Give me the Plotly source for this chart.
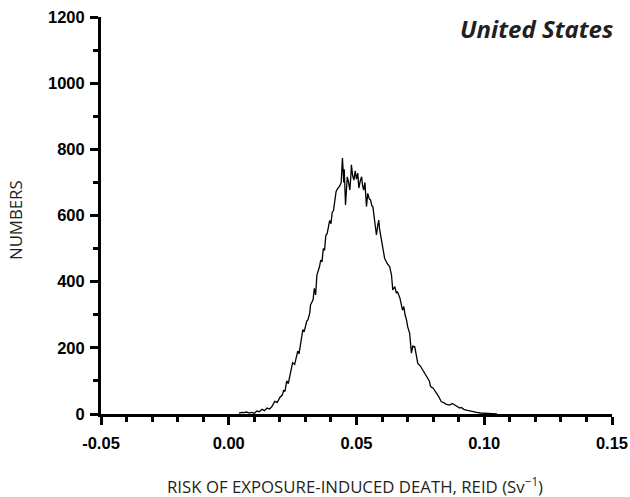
import plotly.graph_objects as go

reid = [0.004, 0.005, 0.006, 0.007, 0.008, 0.009, 0.010, 0.011, 0.012, 0.013, 0.014, 0.015,
        0.016, 0.017, 0.018, 0.019, 0.020, 0.021, 0.0215, 0.022, 0.0227, 0.0233, 0.024, 0.0247,
        0.025, 0.0258, 0.0266, 0.027, 0.0275, 0.028, 0.0285, 0.029, 0.0295, 0.0300, 0.0305,
        0.031, 0.0317, 0.032, 0.0325, 0.033, 0.0335, 0.034, 0.0345, 0.035, 0.0355, 0.036,
        0.0365, 0.037, 0.0375, 0.038, 0.0385, 0.039, 0.0395, 0.040, 0.0405, 0.041, 0.0415,
        0.042, 0.0425, 0.043, 0.0435, 0.044, 0.0445, 0.045, 0.0452, 0.0457, 0.046, 0.0464,
        0.0469, 0.0474, 0.0478, 0.048, 0.0485, 0.049, 0.0495, 0.050, 0.0505, 0.0509, 0.0515,
        0.052, 0.0524, 0.0528, 0.0533, 0.0539, 0.0544, 0.055, 0.0555, 0.056, 0.0564, 0.057,
        0.0578, 0.0583, 0.0587, 0.059, 0.060, 0.061, 0.062, 0.063, 0.0637, 0.0642, 0.065,
        0.0656, 0.066, 0.067, 0.068, 0.0685, 0.069, 0.0696, 0.070, 0.0708, 0.0715, 0.072,
        0.0728, 0.0735, 0.074, 0.075, 0.076, 0.077, 0.0779, 0.0785, 0.079, 0.080, 0.0813,
        0.082, 0.0832, 0.084, 0.085, 0.0865, 0.0875, 0.0885, 0.0895, 0.0904, 0.091, 0.092,
        0.093, 0.094, 0.0955, 0.097, 0.0985, 0.0994, 0.101, 0.103, 0.105]
numbers = [3, 5, 4, 6, 3, 5, 2, 9, 7, 14, 10, 18,
           15, 24, 38, 35, 50, 58, 72, 68, 100, 92, 118, 140,
           155, 150, 175, 190, 182, 205, 230, 255, 248, 270, 280,
           285, 305, 330, 340, 345, 380, 360, 420, 430, 445, 465,
           460, 500, 495, 540, 545, 565, 585, 575, 610, 615, 650,
           672, 680, 685, 690, 700, 774, 700, 740, 632, 690, 717,
           700, 677, 720, 753, 720, 707, 735, 710, 728, 683, 705,
           717, 690, 677, 700, 627, 667, 650, 647, 630, 627, 590,
           541, 570, 586, 560, 520, 471, 455, 445, 420, 375, 385,
           365, 370, 350, 314, 325, 300, 284, 265, 244, 184, 205,
           203, 175, 153, 145, 133, 120, 108, 100, 83, 78, 63,
           55, 37, 35, 30, 27, 32, 27, 22, 18, 20, 14,
           12, 10, 6, 5, 3, 3, 2, 1, 0]

x_ticks = [-0.05, 0.00, 0.05, 0.10, 0.15]
x_ticklabels = ["-0.05", "0.00", "0.05", "0.10", "0.15"]
y_ticks = [0, 200, 400, 600, 800, 1000, 1200]
y_ticklabels = ["0", "200", "400", "600", "800", "1000", "1200"]

fig = go.Figure()
fig.add_trace(go.Scatter(x=reid, y=numbers, mode="lines",
                         line=dict(color="black", width=1.3), showlegend=False))

tickfont = dict(family="Liberation Sans, Arial, sans-serif", size=16.5, color="black", weight="bold")
titlefont = dict(family="Open Sans, sans-serif", size=16.8, color="#231f20")

fig.update_layout(
    width=630, height=497,
    margin=dict(l=101, r=18, t=17, b=83),
    plot_bgcolor="white", paper_bgcolor="white",
    xaxis=dict(
        range=[-0.05, 0.15], tickvals=x_ticks, ticktext=x_ticklabels, automargin=False,
        showline=True, linecolor="black", linewidth=3, showgrid=False, zeroline=False,
        ticks="outside", ticklen=8, tickwidth=3, tickcolor="black",
        tickfont=tickfont, ticklabelstandoff=4, ticklabeloverflow="allow",
        minor=dict(dtick=0.01, ticks="outside", ticklen=5, tickwidth=3, tickcolor="black", showgrid=False),
    ),
    yaxis=dict(
        range=[0, 1200], tickvals=y_ticks, ticktext=y_ticklabels, automargin=False,
        showline=True, linecolor="black", linewidth=3, showgrid=False, zeroline=False,
        ticks="outside", ticklen=8, tickwidth=3, tickcolor="black",
        tickfont=tickfont, ticklabelstandoff=2, ticklabeloverflow="allow",
        minor=dict(dtick=100, ticks="outside", ticklen=5, tickwidth=3, tickcolor="black", showgrid=False),
    ),
    annotations=[
        dict(text="<b><i>United States</i></b>", xref="paper", yref="paper",
             x=1.0, y=0.972, xanchor="right", yanchor="middle", xshift=3, showarrow=False,
             font=dict(family="Open Sans, sans-serif", size=24, color="#231f20")),
        dict(text="RISK OF EXPOSURE-INDUCED DEATH, REID (Sv<sup>\u22121</sup>)",
             xref="paper", yref="paper", x=0.497, y=-0.181, xanchor="center", yanchor="middle",
             showarrow=False, font=titlefont),
        dict(text="NUMBERS", xref="paper", yref="paper", x=-0.1663, y=0.4887,
             xanchor="center", yanchor="middle", textangle=-90, showarrow=False, font=titlefont),
    ],
)

fig.write_html("out.html", config={"displayModeBar": False},
               post_script="document.body.style.margin='0';document.body.style.overflow='hidden';")
